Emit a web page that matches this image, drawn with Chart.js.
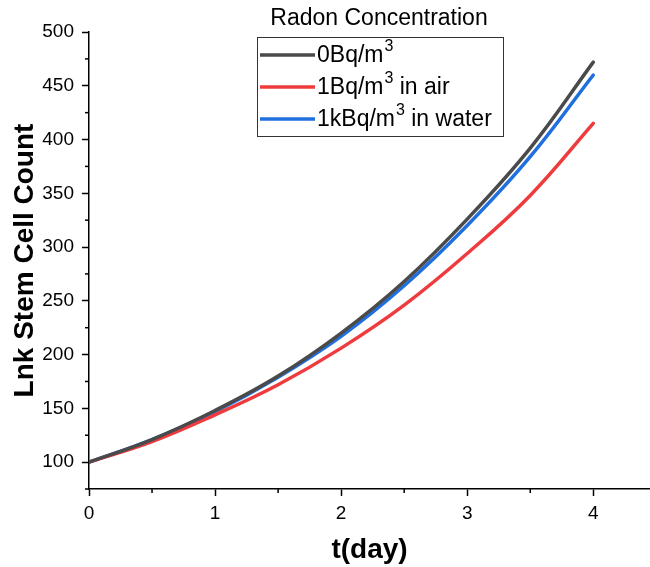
<!DOCTYPE html>
<html>
<head>
<meta charset="utf-8">
<script src="https://cdn.jsdelivr.net/npm/chart.js@4.4.1/dist/chart.umd.min.js"></script>
<style>
  html, body { margin: 0; padding: 0; background: #fff; }
  #wrap { width: 650px; height: 567px; }
</style>
</head>
<body>
<div id="wrap"><canvas id="myChart" width="650" height="567"></canvas></div>
<script>
// dados
const days = [0, 0.5, 1, 1.5, 2, 2.5, 3, 3.5, 4];
const semRadon = [100, 121, 148, 180, 220, 268, 326, 392, 472];
const radonAr = [100, 119, 144, 172, 206, 246, 294, 348, 415];
const radonAgua = [100, 121, 147, 179, 217, 264, 320, 384, 460];
const xTicks = [0, 1, 2, 3, 4];
const yTicks = [100, 150, 200, 250, 300, 350, 400, 450, 500];

const legendTitle = 'Radon Concentration';
// cada item: [antes do expoente, expoente, depois]
const legendItems = [
    ['0Bq/m', '3', ''],
    ['1Bq/m', '3', ' in air'],
    ['1kBq/m', '3', ' in water']
];
const colors = ['#4a4a4a', '#ef3b3e', '#1f6fdf'];

const FONT = 'Arial, "Liberation Sans", sans-serif';

function toPoints(ys) {
    return days.map((d, i) => ({ x: d, y: ys[i] }));
}

// desenha ticks menores e a legenda dentro da área do gráfico
const extras = {
    id: 'extras',
    afterDraw(chart) {
        const ctx = chart.ctx;
        const xs = chart.scales.x, ys = chart.scales.y;
        ctx.save();
        ctx.strokeStyle = '#000';
        ctx.lineWidth = 1.5;
        // ticks menores
        for (let v = 0.5; v < 4.45; v += 1) {
            const px = xs.getPixelForValue(v);
            ctx.beginPath();
            ctx.moveTo(px, xs.top);
            ctx.lineTo(px, xs.top + 4);
            ctx.stroke();
        }
        for (let v = 75; v < 500; v += 50) {
            const py = ys.getPixelForValue(v);
            ctx.beginPath();
            ctx.moveTo(ys.right, py);
            ctx.lineTo(ys.right - 4, py);
            ctx.stroke();
        }

        // legenda
        ctx.fillStyle = '#000';
        ctx.textBaseline = 'middle';
        ctx.textAlign = 'center';
        ctx.font = '23px ' + FONT;
        ctx.fillText(legendTitle, 379, 19);

        ctx.strokeStyle = '#333';
        ctx.lineWidth = 1;
        ctx.strokeRect(257.5, 37.5, 246, 99);

        const rowY = [55, 87, 119];
        legendItems.forEach((item, i) => {
            const y = rowY[i];
            ctx.strokeStyle = colors[i];
            ctx.lineWidth = 3.5;
            ctx.beginPath();
            ctx.moveTo(260, y);
            ctx.lineTo(315, y);
            ctx.stroke();

            ctx.fillStyle = '#000';
            ctx.textAlign = 'left';
            let x = 317;
            ctx.font = '23px ' + FONT;
            ctx.fillText(item[0], x, y + 1);
            x += ctx.measureText(item[0]).width;
            ctx.font = '16px ' + FONT;
            ctx.fillText(item[1], x + 1, y - 8);
            x += ctx.measureText(item[1]).width + 1;
            ctx.font = '23px ' + FONT;
            ctx.fillText(item[2], x, y + 1);
        });
        ctx.restore();
    }
};

const ctx = document.getElementById('myChart');

new Chart(ctx, {
    type: 'line',
    data: {
        datasets: [
            { label: '0Bq/m³', data: toPoints(semRadon), borderColor: colors[0] },
            { label: '1Bq/m³ in air', data: toPoints(radonAr), borderColor: colors[1] },
            { label: '1kBq/m³ in water', data: toPoints(radonAgua), borderColor: colors[2] }
        ]
    },
    options: {
        responsive: false,
        animation: false,
        devicePixelRatio: 1,
        layout: { padding: { top: 32, right: 0, left: 0, bottom: 0 } },
        elements: {
            line: { borderWidth: 3.5, tension: 0.4, borderCapStyle: 'round', fill: false },
            point: { radius: 0 }
        },
        plugins: {
            legend: { display: false },
            tooltip: { enabled: false }
        },
        scales: {
            x: {
                type: 'linear',
                min: 0,
                max: 4.45,
                afterBuildTicks: s => { s.ticks = xTicks.map(v => ({ value: v })); },
                afterFit: s => { s.height = 78; },
                grid: { drawOnChartArea: false, tickLength: 7, tickWidth: 1.5, tickColor: '#000' },
                border: { color: '#000', width: 1.5 },
                ticks: { color: '#000', font: { size: 19, family: FONT }, padding: 6, maxRotation: 0 },
                title: {
                    display: true,
                    text: 't(day)',
                    color: '#000',
                    font: { size: 28, weight: 'bold', family: FONT },
                    padding: { top: 0, bottom: 0 }
                }
            },
            y: {
                min: 75,
                max: 500,
                afterBuildTicks: s => { s.ticks = yTicks.map(v => ({ value: v })); },
                afterFit: s => { s.width = 89; },
                grid: { drawOnChartArea: false, tickLength: 7, tickWidth: 1.5, tickColor: '#000' },
                border: { color: '#000', width: 1.5 },
                ticks: { color: '#000', font: { size: 19, family: FONT }, padding: 8 },
                title: {
                    display: true,
                    text: 'Lnk Stem Cell Count',
                    color: '#000',
                    font: { size: 28, weight: 'bold', family: FONT },
                    padding: { top: 8, bottom: 0 }
                }
            }
        }
    },
    plugins: [extras]
});
</script>
</body>
</html>
